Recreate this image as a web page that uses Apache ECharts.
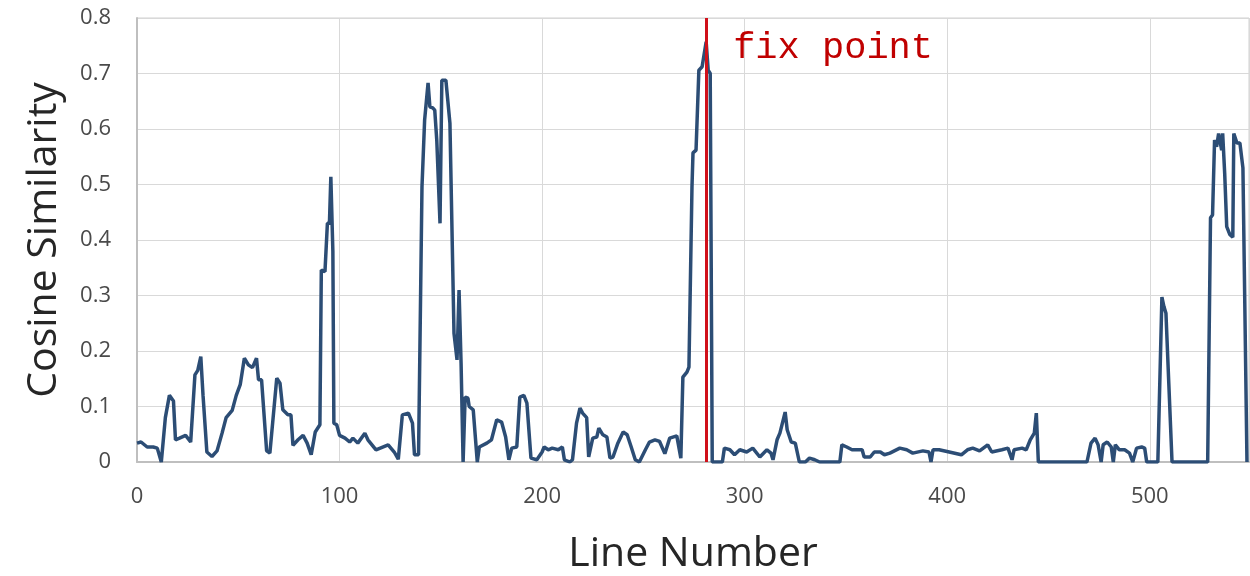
<!DOCTYPE html>
<html>
<head>
<meta charset="utf-8">
<script src="https://cdn.jsdelivr.net/npm/echarts@6/dist/echarts.min.js"></script>
<style>
html,body{margin:0;padding:0;background:#fff;}
#chart{width:1250px;height:576px;}
</style>
</head>
<body>
<div id="chart"></div>
<script>
// ---- data ----
const lineNumbers = [
  0,2,5,8,10,12,14,16,18,19,21,24,26.5,28.6,30,31.5,32.6,34.5,37,39.5,
  42,44,47,49,51,53,55,57,59,60,61.5,64,65.6,69,70.6,72,74.5,76,77,79.5,
  82,84,86,88,90.3,91,92.8,94,95,95.7,96.7,97.2,98.6,100,102.7,105,106.6,109,112.5,114,
  118,124,127,129,131,134,136,137,139,140.7,142,143.7,144.6,146,147,148,149.6,150.5,152.5,154.5,
  156.5,158,159,160,161,162,163.4,164,166,168,169,172.7,175,177.6,180,182,183.6,185,187.5,189,
  191,192.5,194.5,197.4,200,201,203,205,208,210,211,213.7,215,217,218.7,220,222,223,225,227,
  228,230,232,233.5,235,237.4,240,242,244,246,248,251,253,255.7,258,260.6,263,266.5,268.5,269.5,
  271.5,272.5,274,274.5,276,277.4,279,281,282,283,284,289,290,292.7,295,297.6,301,304,307.5,311,
  313,314,316,317.4,320,321,323,325,327,330,332,334.6,337,347,348,350.4,353,355,358,359,
  362,364,367,369,371.7,376.6,380,383,388,391,392,393,396,401,407,410,412.6,416,420,422,
  427,430,432,433,437,439,441,443,444,445,469,471,473,474.5,476,477,479,481,482,483,
  485,487.6,490,491.6,493.5,496,497.5,498.5,504,506,507,508,509.4,511,528.6,530,531,532,533,534,
  535.5,536,537,538,539.5,541,541.5,543,544.5,546,548
];
const cosineSimilarity = [
  .034,.036,.027,.027,.025,0,.08,.12,.11,.04,.043,.048,.036,.157,.165,.19,.12,.018,.01,.02,
  .052,.08,.093,.12,.14,.187,.175,.17,.187,.148,.148,.02,.016,.151,.142,.094,.085,.085,.03,.04,
  .048,.034,.013,.054,.067,.346,.343,.43,.43,.514,.38,.07,.067,.048,.043,.036,.043,.034,.052,.04,
  .022,.031,.018,.005,.085,.088,.07,.013,.013,.496,.616,.683,.64,.638,.634,.58,.43,.688,.688,.61,
  .232,.184,.31,.178,0,.117,.115,.1,.094,0,.027,.034,.04,.076,.072,.045,.004,.025,.027,.117,
  .12,.106,.007,.004,.018,.027,.022,.025,.022,.027,.004,0,.004,.07,.097,.088,.08,.009,.043,.045,
  .061,.049,.045,.007,.009,.034,.054,.049,.027,.004,0,.022,.036,.04,.037,.015,.043,.047,.007,.153,
  .162,.171,.496,.557,.562,.706,.712,.757,.706,.70,0,0,.025,.022,.013,.022,.018,.025,.009,.022,
  .016,.004,.04,.052,.09,.058,.036,.034,0,0,.007,.004,0,0,.031,.027,.022,.022,.022,.009,
  .009,.018,.018,.013,.016,.025,.022,.016,.02,.018,0,.022,.022,.018,.013,.022,.025,.02,.031,.018,
  .022,.025,.004,.022,.025,.022,.04,.052,.088,0,0,.034,.043,.031,0,.031,.036,.027,0,.031,
  .022,.022,.016,0,.025,.027,.025,0,0,.297,.28,.268,.142,0,0,.44,.445,.58,.568,.592,
  .562,.592,.52,.424,.41,.405,.592,.575,.575,.53,0
];
const FIX_POINT = 281;
const FIX_LABEL = 'fix point';
const xTitle = 'Line Number';
const yTitle = 'Cosine Similarity';

const seriesData = lineNumbers.map((x, i) => [x, cosineSimilarity[i]]);

const chart = echarts.init(document.getElementById('chart'), null, {renderer: 'canvas'});
const labelFont = '"Open Sans", sans-serif';
chart.setOption({
  animation: false,
  backgroundColor: '#ffffff',
  grid: {left: 137, top: 18, right: 1, bottom: 114, containLabel: false,
         outerBoundsMode: 'none',
         show: true, borderColor: '#d0d0d0', borderWidth: 1},
  xAxis: {
    type: 'value', min: 0, max: 549, interval: 100,
    name: xTitle, nameLocation: 'middle', nameGap: 72,
    nameTextStyle: {fontFamily: labelFont, fontSize: 41, color: '#262626'},
    axisLine: {show: true, lineStyle: {color: '#bfbfbf', width: 2}},
    axisTick: {show: false},
    axisLabel: {fontFamily: labelFont, fontSize: 22, color: '#4a4a4a', margin: 24,
      formatter: v => (v % 100 === 0 ? String(v) : '')},
    splitLine: {show: true, lineStyle: {color: '#d9d9d9', width: 1}}
  },
  yAxis: {
    type: 'value', min: 0, max: 0.8, interval: 0.1,
    name: yTitle, nameLocation: 'middle', nameGap: 72,
    nameTextStyle: {fontFamily: labelFont, fontSize: 41, color: '#262626'},
    axisLine: {show: true, lineStyle: {color: '#bfbfbf', width: 2}},
    axisTick: {show: false},
    axisLabel: {fontFamily: labelFont, fontSize: 22, color: '#4a4a4a', margin: 26,
      formatter: v => (Math.round(v * 10) / 10).toString()},
    splitLine: {show: true, lineStyle: {color: '#d9d9d9', width: 1}}
  },
  series: [{
    type: 'line',
    data: seriesData,
    showSymbol: false,
    lineStyle: {color: '#2c4d75', width: 3.5},
    itemStyle: {color: '#2c4d75'},
    markLine: {
      silent: true,
      symbol: ['none', 'none'],
      label: {show: false},
      lineStyle: {color: '#d0101a', width: 3, type: 'solid'},
      data: [{xAxis: FIX_POINT}]
    },
    markPoint: {
      symbol: 'rect', symbolSize: 0,
      data: [{coord: [FIX_POINT, 0.8]}],
      label: {show: true, formatter: FIX_LABEL, position: 'insideLeft',
        offset: [22, 30],
        fontFamily: '"Liberation Mono", "DejaVu Sans Mono", monospace',
        fontWeight: 'normal', fontSize: 37, color: '#c00000'}
    }
  }]
});
</script>
</body>
</html>
